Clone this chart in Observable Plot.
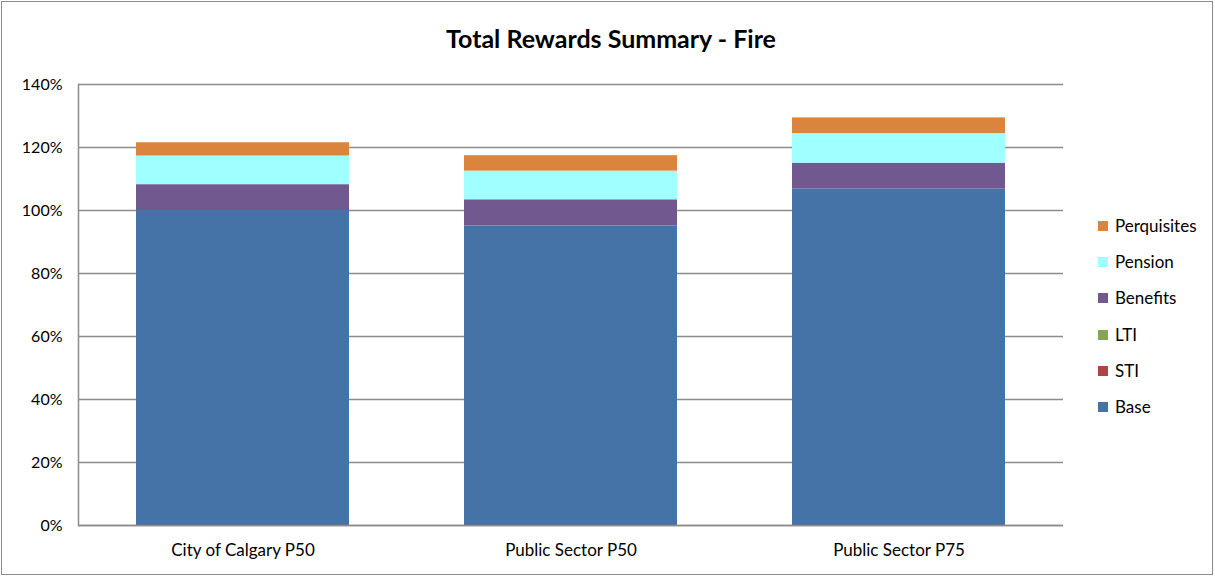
<!DOCTYPE html>
<html>
<head>
<meta charset="utf-8">
<script src="https://cdn.jsdelivr.net/npm/d3@7"></script>
<script src="https://cdn.jsdelivr.net/npm/@observablehq/plot@0.6"></script>
<style>
  html, body { margin: 0; padding: 0; background: #fff; }
  body { width: 1215px; height: 576px; position: relative; overflow: hidden; font-family: Lato, "Open Sans", sans-serif; }
  #frame { position: absolute; left: 1px; top: 1px; width: 1212px; height: 574px; box-sizing: border-box; border: 1px solid #8c8c8c; }
  #title { position: absolute; left: 0; width: 1222px; top: 23px; text-align: center; font-weight: bold; font-size: 25px; color: #000; }
  #chart { position: absolute; left: 0; top: 60px; }
  #legend { position: absolute; left: 1098px; top: 208px; font-size: 17px; color: #000; }
  #legend .item { display: flex; align-items: center; height: 36.2px; line-height: 18px; }
  #legend .sw { width: 10px; height: 10px; margin-right: 7px; }
</style>
</head>
<body>
<div id="frame"></div>
<div id="title">Total Rewards Summary - Fire</div>
<div id="chart"></div>
<div id="legend"></div>
<script>
const categories = ["City of Calgary P50", "Public Sector P50", "Public Sector P75"];
const seriesNames = ["Base", "STI", "LTI", "Benefits", "Pension", "Perquisites"];
const base = [100.0, 95.1, 106.8];
const sti = [0, 0, 0];
const lti = [0, 0, 0];
const benefits = [8.2, 8.3, 8.2];
const pension = [9.1, 9.1, 9.4];
const perquisites = [4.2, 4.9, 5.0];
const colors = ["#4572a7", "#aa4643", "#89a54e", "#71588f", "#a0ffff", "#db843d"];
const yTicks = [0, 20, 40, 60, 80, 100, 120, 140];

const seriesValues = [base, sti, lti, benefits, pension, perquisites];
const rows = [];
seriesNames.forEach((s, si) => {
  categories.forEach((c, ci) => rows.push({category: c, series: s, value: seriesValues[si][ci]}));
});

const chart = Plot.plot({
  width: 1100,
  height: 510,
  marginLeft: 78,
  marginRight: 37,
  marginTop: 24,
  marginBottom: 45,
  style: {fontFamily: "Lato, 'Open Sans', sans-serif", fontSize: "16px", color: "#000", background: "transparent"},
  x: {domain: categories, paddingInner: 0.35, paddingOuter: 0.175, label: null, tickSize: 0, tickPadding: 18},
  y: {domain: [0, 140], ticks: yTicks, label: null, tickFormat: d => d + "%", tickSize: 0, tickPadding: 16},
  color: {domain: seriesNames, range: colors},
  marks: [
    Plot.gridY(yTicks, {stroke: "#8c8c8c", strokeOpacity: 1, strokeWidth: 1.5}),
    Plot.barY(rows, {x: "category", y: "value", fill: "series", order: seriesNames}),
    Plot.frame({anchor: "left", stroke: "#8c8c8c", strokeWidth: 1.5}),
    Plot.ruleY([0], {stroke: "#8c8c8c", strokeWidth: 1.5}),
    Plot.axisY({ticks: yTicks, tickFormat: d => d + "%", tickSize: 0, tickPadding: 16, label: null, fontSize: 16}),
    Plot.axisX({tickSize: 0, tickPadding: 18, label: null, fontSize: 17})
  ]
});
document.getElementById("chart").appendChild(chart);

const legend = document.getElementById("legend");
seriesNames.slice().reverse().forEach(s => {
  const item = document.createElement("div");
  item.className = "item";
  const sw = document.createElement("div");
  sw.className = "sw";
  sw.style.background = colors[seriesNames.indexOf(s)];
  const label = document.createElement("span");
  label.textContent = s;
  item.appendChild(sw);
  item.appendChild(label);
  legend.appendChild(item);
});
</script>
</body>
</html>
